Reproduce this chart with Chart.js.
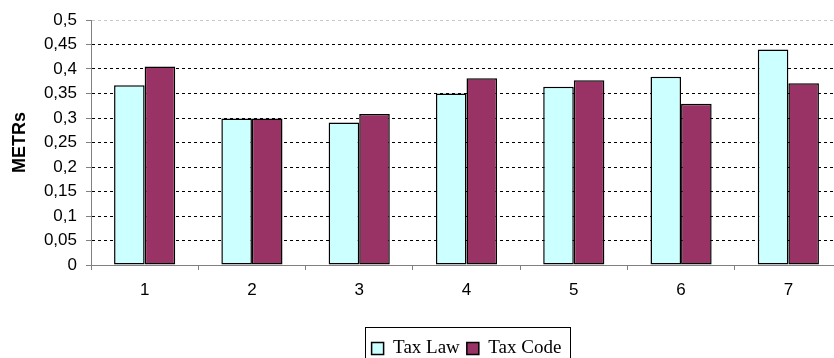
<!DOCTYPE html>
<html>
<head>
<meta charset="utf-8">
<script src="https://cdn.jsdelivr.net/npm/chart.js@4"></script>
<style>
    html, body { margin: 0; padding: 0; overflow: hidden; background: #fff; }
    #wrap { width: 850px; height: 372px; }
</style>
</head>
<body>
<div id="wrap"><canvas id="chart"></canvas></div>
<script>
// Data
const categories = ['1', '2', '3', '4', '5', '6', '7'];
const taxLaw = [0.367, 0.299, 0.291, 0.350, 0.364, 0.384, 0.440];
const taxCode = [0.405, 0.299, 0.308, 0.381, 0.377, 0.329, 0.371];
const yMin = 0;
const yMax = 0.5;
const yStep = 0.05;

// Format ticks with a decimal comma
function commaLabel(value) {
    return (Math.round(value * 100) / 100).toString().replace('.', ',');
}

// Frame around the legend, like the original
const legendFrame = {
    id: 'legendFrame',
    afterDraw(chart) {
        const legend = chart.legend;
        if (!legend || !legend.legendHitBoxes.length) return;
        const boxes = legend.legendHitBoxes;
        const left = Math.min(...boxes.map(b => b.left)) - 7;
        const right = Math.max(...boxes.map(b => b.left + b.width)) + 8;
        const top = Math.min(...boxes.map(b => b.top)) - 12;
        const bottom = Math.max(...boxes.map(b => b.top + b.height)) + 12;
        const ctx = chart.ctx;
        ctx.save();
        ctx.strokeStyle = '#000';
        ctx.lineWidth = 1;
        ctx.strokeRect(Math.round(left) + 0.5, Math.round(top) + 0.5,
            Math.round(right - left), Math.round(bottom - top));
        ctx.restore();
    }
};

const ctx = document.getElementById('chart').getContext('2d');
const chart = new Chart(ctx, {
    type: 'bar',
    data: {
        labels: categories,
        datasets: [{
            label: 'Tax Law',
            data: taxLaw,
            backgroundColor: '#CCFFFF',
            borderColor: '#000',
            borderWidth: 1.5,
            borderSkipped: false
        }, {
            label: 'Tax Code',
            data: taxCode,
            backgroundColor: '#993366',
            borderColor: '#000',
            borderWidth: 1.5,
            borderSkipped: false
        }]
    },
    options: {
        responsive: true,
        maintainAspectRatio: false,
        animation: false,
        datasets: {
            bar: {
                barPercentage: 1,
                categoryPercentage: 0.57
            }
        },
        layout: {
            padding: { top: 20, right: 8, left: 0, bottom: 4 }
        },
        plugins: {
            tooltip: { enabled: false },
            legend: {
                display: true,
                position: 'bottom',
                fullSize: false,
                labels: {
                    boxWidth: 12,
                    boxHeight: 12,
                    padding: 7,
                    color: '#000',
                    font: { family: '"Liberation Serif", "Times New Roman", serif', size: 19 }
                }
            }
        },
        scales: {
            x: {
                afterFit: (scale) => { scale.height = 67; },
                grid: {
                    offset: true,
                    drawOnChartArea: false,
                    drawTicks: true,
                    tickLength: 5,
                    tickColor: '#808080'
                },
                border: { color: '#808080', width: 1 },
                ticks: {
                    color: '#000',
                    padding: 10,
                    font: { family: '"Liberation Sans", Arial, sans-serif', size: 17 }
                }
            },
            y: {
                min: yMin,
                max: yMax,
                afterFit: (scale) => { scale.width = 91; },
                grid: {
                    drawTicks: true,
                    tickLength: 5,
                    tickColor: '#808080',
                    color: (c) => {
                        if (c.tick && c.tick.value === 0) return 'rgba(0,0,0,0)';
                        if (c.tick && Math.abs(c.tick.value - yMax) < 1e-9) return '#c8c8c8';
                        return '#000';
                    }
                },
                border: { color: '#808080', width: 1, dash: [3, 3] },
                ticks: {
                    stepSize: yStep,
                    color: '#000',
                    padding: 9,
                    font: { family: '"Liberation Sans", Arial, sans-serif', size: 17 },
                    callback: (value) => commaLabel(value)
                },
                title: {
                    display: true,
                    text: 'METRs',
                    color: '#000',
                    padding: { top: 9, bottom: 0 },
                    font: { family: '"Liberation Sans", Arial, sans-serif', size: 18, weight: 'bold' }
                }
            }
        }
    },
    plugins: [legendFrame]
});
</script>
</body>
</html>
